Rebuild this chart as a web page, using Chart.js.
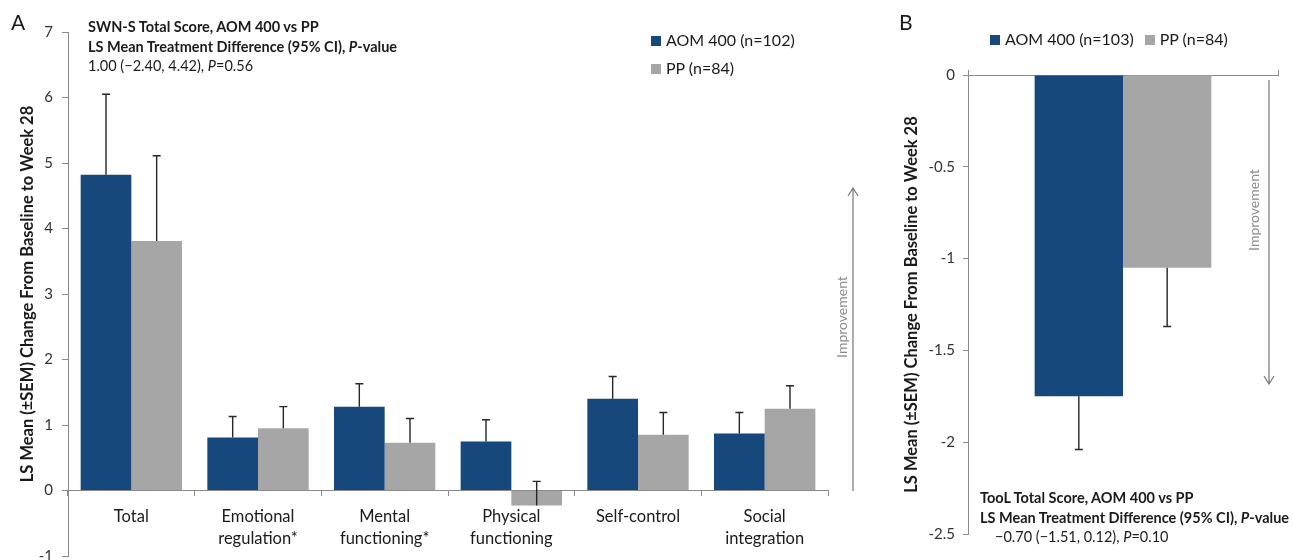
<!DOCTYPE html>
<html>
<head>
<meta charset="utf-8">
<script src="https://cdn.jsdelivr.net/npm/chart.js@4"></script>
<style>
  html, body { margin: 0; padding: 0; background: #fff; overflow: hidden; width: 1293px; height: 560px; }
  body { position: relative; font-family: Lato, "Open Sans", sans-serif; color: #1a1a1a; }
  #boxA { position: absolute; left: 0; top: 0; }
  #boxB { position: absolute; left: 880px; top: 0; }
  .t { position: absolute; white-space: nowrap; }
  .panel { font-size: 21px; }
  .note { font-size: 14.5px; line-height: 19.5px; }
  .leg { font-size: 16px; line-height: 18px; }
  .sq { display: inline-block; width: 10px; height: 10px; margin-right: 5px; vertical-align: 0px; }
</style>
</head>
<body>
<div id="boxA"><canvas id="chartA" width="880" height="580"></canvas></div>
<div id="boxB"><canvas id="chartB" width="413" height="560"></canvas></div>

<div class="t panel" style="left:11px; top:9px;">A</div>
<div class="t panel" style="left:899px; top:9px;">B</div>

<div class="t note" style="left:88px; top:17px;">
  <b>SWN-S Total Score, AOM 400 vs PP</b><br>
  <b>LS Mean Treatment Difference (95% CI), <i>P</i>-value</b><br>
  1.00 (&minus;2.40, 4.42), <i>P</i>=0.56
</div>
<div class="t note" style="left:980px; top:488px;">
  <b>TooL Total Score, AOM 400 vs PP</b><br>
  <b>LS Mean Treatment Difference (95% CI), <i>P</i>-value</b><br>
  <span style="margin-left:15px">&minus;0.70 (&minus;1.51, 0.12), <i>P</i>=0.10</span>
</div>

<div class="t leg" style="left:651px; top:31px;"><span class="sq" style="background:#17487c"></span>AOM 400 (n=102)</div>
<div class="t leg" style="left:651px; top:59px;"><span class="sq" style="background:#a6a6a6"></span>PP (n=84)</div>
<div class="t leg" style="left:990px; top:30px;"><span class="sq" style="background:#17487c"></span>AOM 400 (n=103)<span class="sq" style="background:#a6a6a6; margin-left:11px"></span>PP (n=84)</div>

<script>
// panel A - SWN-S
const categoriesA = ['Total', ['Emotional', 'regulation*'], ['Mental', 'functioning*'], ['Physical', 'functioning'], 'Self-control', ['Social', 'integration']];
const aomA = [4.82, 0.81, 1.28, 0.75, 1.40, 0.87];
const aomSemA = [1.23, 0.32, 0.35, 0.33, 0.34, 0.32];
const ppA = [3.81, 0.95, 0.73, -0.23, 0.85, 1.25];
const ppSemA = [1.30, 0.33, 0.37, 0.37, 0.34, 0.35];
const ticksA = [-1, 0, 1, 2, 3, 4, 5, 6, 7];

// panel B - TooL
const categoriesB = [''];
const aomB = [-1.75];
const aomSemB = [0.29];
const ppB = [-1.05];
const ppSemB = [0.32];
const ticksB = [0, -0.5, -1, -1.5, -2, -2.5];

const blue = '#17487c';
const grey = '#a6a6a6';
const axisCol = '#8a8a8a';
const yTitle = 'LS Mean (\u00b1SEM) Change From Baseline to Week 28';

const errorBars = {
  id: 'errorBars',
  afterDatasetsDraw(chart, args, opts) {
    const ctx = chart.ctx;
    const y = chart.scales.y;
    ctx.save();
    ctx.strokeStyle = '#262626';
    ctx.lineWidth = 1.4;
    chart.data.datasets.forEach((ds, i) => {
      chart.getDatasetMeta(i).data.forEach((bar, j) => {
        const v = ds.data[j];
        const y0 = y.getPixelForValue(v);
        const y1 = y.getPixelForValue(v + opts.dir * ds.sem[j]);
        ctx.beginPath();
        ctx.moveTo(bar.x, y0);
        ctx.lineTo(bar.x, y1);
        ctx.moveTo(bar.x - 4, y1);
        ctx.lineTo(bar.x + 4, y1);
        ctx.stroke();
      });
    });
    ctx.restore();
  }
};

// grey "Improvement" arrow beside the plot
const arrow = {
  id: 'arrow',
  afterDraw(chart, args, o) {
    const ctx = chart.ctx;
    ctx.save();
    ctx.strokeStyle = '#808080';
    ctx.lineWidth = 1.3;
    ctx.beginPath();
    ctx.moveTo(o.x, o.from);
    ctx.lineTo(o.x, o.to);
    const d = o.to < o.from ? 1 : -1;
    ctx.moveTo(o.x - 5, o.to + d * 8);
    ctx.lineTo(o.x, o.to);
    ctx.lineTo(o.x + 5, o.to + d * 8);
    ctx.stroke();
    ctx.translate(o.tx, o.ty);
    ctx.rotate(-Math.PI / 2);
    ctx.fillStyle = '#8c8c8c';
    ctx.font = '14px Lato, "Open Sans", sans-serif';
    ctx.textAlign = 'center';
    ctx.textBaseline = 'middle';
    ctx.fillText('Improvement', 0, 0);
    ctx.restore();
  }
};

Chart.defaults.font.family = 'Lato, "Open Sans", sans-serif';
Chart.defaults.color = '#333333';

new Chart(document.getElementById('chartA'), {
  type: 'bar',
  data: {
    labels: categoriesA,
    datasets: [
      { label: 'AOM 400 (n=102)', data: aomA, sem: aomSemA, backgroundColor: blue },
      { label: 'PP (n=84)', data: ppA, sem: ppSemA, backgroundColor: grey }
    ]
  },
  options: {
    responsive: false,
    animation: false,
    layout: { padding: { left: 0, right: 52, top: 32, bottom: 24 } },
    datasets: { bar: { categoryPercentage: 0.8, barPercentage: 1.0 } },
    plugins: {
      legend: { display: false },
      tooltip: { enabled: false },
      errorBars: { dir: 1 },
      arrow: { x: 853, from: 491, to: 188, tx: 842, ty: 317 }
    },
    scales: {
      x: {
        position: { y: 0 },
        grid: { offset: true, drawOnChartArea: false, tickLength: 5, color: axisCol },
        border: { color: axisCol },
        ticks: { font: { size: 16.5, lineHeight: 1.33 }, color: '#1a1a1a', padding: 10, maxRotation: 0 }
      },
      y: {
        min: -1, max: 7,
        afterBuildTicks: s => { s.ticks = ticksA.map(v => ({ value: v })); },
        afterFit: s => { s.width = 68; },
        grid: { drawOnChartArea: false, tickLength: 6, color: axisCol },
        border: { color: axisCol },
        ticks: { font: { size: 15 }, padding: 9, callback: v => String(v) },
        title: { display: true, text: yTitle, font: { size: 16.5, weight: 'bold' }, color: '#1a1a1a', padding: { top: 18, bottom: 0 } }
      }
    }
  },
  plugins: [errorBars, arrow]
});

new Chart(document.getElementById('chartB'), {
  type: 'bar',
  data: {
    labels: categoriesB,
    datasets: [
      { label: 'AOM 400 (n=103)', data: aomB, sem: aomSemB, backgroundColor: blue },
      { label: 'PP (n=84)', data: ppB, sem: ppSemB, backgroundColor: grey }
    ]
  },
  options: {
    responsive: false,
    animation: false,
    layout: { padding: { left: 0, right: 15, top: 70, bottom: 26 } },
    datasets: { bar: { categoryPercentage: 0.57, barPercentage: 1.0 } },
    plugins: {
      legend: { display: false },
      tooltip: { enabled: false },
      errorBars: { dir: -1 },
      arrow: { x: 389, from: 80, to: 384, tx: 374, ty: 210 }
    },
    scales: {
      x: {
        position: 'top',
        afterFit: s => { s.height = 5; },
        grid: { offset: true, drawOnChartArea: false, tickLength: 5, color: axisCol },
        border: { color: axisCol },
        ticks: { display: false }
      },
      y: {
        min: -2.5, max: 0,
        afterBuildTicks: s => { s.ticks = ticksB.map(v => ({ value: v })); },
        afterFit: s => { s.width = 88; },
        grid: { drawOnChartArea: false, tickLength: 5, color: axisCol },
        border: { color: axisCol },
        ticks: { font: { size: 15 }, padding: 8, callback: v => String(v) },
        title: { display: true, text: yTitle, font: { size: 16.5, weight: 'bold' }, color: '#1a1a1a', padding: { top: 22, bottom: 0 } }
      }
    }
  },
  plugins: [errorBars, arrow]
});
</script>
</body>
</html>
